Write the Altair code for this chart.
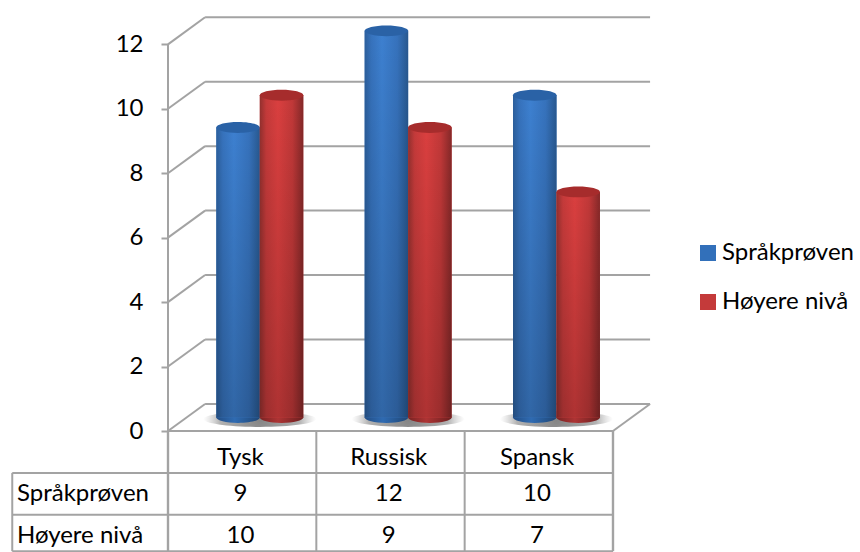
import altair as alt
import pandas as pd

categories = ["Tysk", "Russisk", "Spansk"]
series_names = ["Språkprøven", "Høyere nivå"]
sprakproven = [9, 12, 10]
hoyere_niva = [10, 9, 7]
y_ticks = [0, 2, 4, 6, 8, 10, 12]

series_values = {"Språkprøven": sprakproven, "Høyere nivå": hoyere_niva}
legend_colors = ["#3270ba", "#c43a3a"]

FONT = "Lato"
FONT_SIZE = 24
GREY = "#a3a3a3"

# oblique projection of the floor, in axis units
DEPTH_X = 0.25
DEPTH_Y = 0.84
BAR_W = 0.293
BAR_SHIFT = 0.119
TEXT_SHIFT = -0.012
N = len(categories)

x_scale = alt.Scale(domain=[0, 482 / 148.33], zero=False, nice=False)
y_scale = alt.Scale(domain=[0, 12.88], zero=False, nice=False)
y_axis = alt.Axis(
    values=y_ticks, title=None, grid=False, domain=False, tickSize=7,
    tickColor=GREY, tickWidth=2, labelFont=FONT, labelFontSize=FONT_SIZE,
    labelColor="#000000", labelPadding=18, format="d",
)


def X(field="x"):
    return alt.X(f"{field}:Q", scale=x_scale, axis=None)


def Y(field="y"):
    return alt.Y(f"{field}:Q", scale=y_scale, axis=y_axis)


def h_gradient(stops):
    return alt.Gradient(
        gradient="linear", x1=0, x2=1, y1=0, y2=0,
        stops=[alt.GradientStop(offset=o, color=c) for o, c in stops],
    )


shades = {
    "Språkprøven": {
        "body": [(0, "#2c5f9c"), (0.15, "#3672bc"), (0.4, "#3d80d0"), (0.75, "#3672bc"), (1, "#28588f")],
        "foot": [(0, "#234e85"), (0.42, "#2f6bb2"), (1, "#1f4675")],
        "top": "#2a62a6",
    },
    "Høyere nivå": {
        "body": [(0, "#93302e"), (0.15, "#c43a3a"), (0.42, "#da3f3f"), (0.75, "#c03838"), (1, "#842828")],
        "foot": [(0, "#7a2323"), (0.42, "#ad3434"), (1, "#6d1f1f")],
        "top": "#a62c2c",
    },
}

# walls and floor outline
segments = []
for v in y_ticks:
    segments.append(dict(x=0, y=v, x2=DEPTH_X, y2=v + DEPTH_Y))
    segments.append(dict(x=DEPTH_X, y=v + DEPTH_Y, x2=N + DEPTH_X, y2=v + DEPTH_Y))
segments.append(dict(x=0, y=0, x2=0, y2=12))
segments.append(dict(x=0, y=0, x2=N, y2=0))
segments.append(dict(x=N, y=0, x2=N + DEPTH_X, y2=DEPTH_Y))
seg_df = pd.DataFrame(segments)

walls = alt.Chart(seg_df).mark_rule(color=GREY, strokeWidth=2).encode(
    x=X(), x2="x2:Q", y=Y(), y2="y2:Q"
)

# soft contact shadows on the floor
shadow_df = pd.DataFrame({"x": [i + 0.5 + BAR_SHIFT for i in range(N)], "y": [DEPTH_Y / 2 - 0.05] * N})
ELLIPSE_WIDE = "M-1,0A1,0.14 0 1 1 1,0A1,0.14 0 1 1 -1,0Z"
shadows = alt.Chart(shadow_df).mark_point(
    shape=ELLIPSE_WIDE, size=113 ** 2, filled=True, opacity=1, strokeWidth=0,
    fill=alt.Gradient(
        gradient="radial", x1=0.5, y1=0.5, x2=0.5, y2=0.5, r1=0, r2=0.5,
        stops=[
            alt.GradientStop(offset=0, color="rgba(110,110,110,0.85)"),
            alt.GradientStop(offset=0.7, color="rgba(125,125,125,0.6)"),
            alt.GradientStop(offset=1, color="rgba(170,170,170,0)"),
        ],
    ),
).encode(x=X(), y=Y())

# cylinders, one layer group per series so the second series stands in front
ELLIPSE = "M-1,0A1,0.25 0 1 1 1,0A1,0.25 0 1 1 -1,0Z"
ELLIPSE_SIZE = 43.5 ** 2
cylinders = []
for s, name in enumerate(series_names):
    rows = []
    for i, v in enumerate(series_values[name]):
        centre = i + 0.5 + BAR_SHIFT + (s - 0.5) * BAR_W
        rows.append(dict(
            series=name, x=centre, x_l=centre - BAR_W / 2, x_r=centre + BAR_W / 2,
            y=v + DEPTH_Y / 2, y0=DEPTH_Y / 2,
        ))
    df = pd.DataFrame(rows)
    base = alt.Chart(df)
    sh = shades[name]
    cylinders.append(
        base.mark_point(shape=ELLIPSE, size=ELLIPSE_SIZE, filled=True, opacity=1, strokeWidth=0,
                        fill=h_gradient(sh["foot"])).encode(x=X(), y=Y("y0"))
    )
    cylinders.append(
        base.mark_rect().encode(
            x=X("x_l"), x2="x_r:Q", y=Y(), y2="y0:Q",
            color=alt.Color(
                "series:N",
                scale=alt.Scale(domain=series_names, range=legend_colors),
                legend=alt.Legend(
                    title=None, orient="none", legendX=528, legendY=225,
                    symbolType="square", symbolSize=256, symbolStrokeWidth=0,
                    labelFont=FONT, labelFontSize=FONT_SIZE, labelColor="#000000",
                    rowPadding=25, labelOffset=2, labelLimit=200, padding=0,
                ),
            ),
        )
    )
    cylinders.append(
        base.mark_rect(fill=h_gradient(sh["body"])).encode(x=X("x_l"), x2="x_r:Q", y=Y(), y2="y0:Q")
    )
    cylinders.append(
        base.mark_rect(fill=alt.Gradient(
            gradient="linear", x1=0, x2=0, y1=0, y2=1,
            stops=[
                alt.GradientStop(offset=0, color="rgba(0,0,0,0)"),
                alt.GradientStop(offset=1, color="rgba(0,0,0,0.2)"),
            ],
        )).encode(x=X("x_l"), x2="x_r:Q", y=Y(), y2="y0:Q")
    )
    cylinders.append(
        base.mark_point(shape=ELLIPSE, size=ELLIPSE_SIZE, filled=True, opacity=1, strokeWidth=0,
                        fill=sh["top"]).encode(x=X(), y=Y())
    )

# data table beneath the floor
TABLE_LEFT = -1.05
ROW_TOP, ROW_MID, ROW_BOTTOM = -1.3, -2.6, -3.73
grid = []
for i in range(N + 1):
    grid.append(dict(x=i, y=0, x2=i, y2=ROW_BOTTOM, w=2.4 if i in (0, N) else 2))
grid.append(dict(x=TABLE_LEFT, y=ROW_TOP, x2=TABLE_LEFT, y2=ROW_BOTTOM, w=2))
for r in (ROW_TOP, ROW_MID, ROW_BOTTOM):
    grid.append(dict(x=TABLE_LEFT, y=r, x2=N, y2=r, w=2))
table_lines = alt.Chart(pd.DataFrame(grid)).mark_rule(color=GREY).encode(
    x=X(), x2="x2:Q", y=Y(), y2="y2:Q",
    strokeWidth=alt.StrokeWidth("w:Q", scale=None),
)

cells = [dict(x=i + 0.5 + TEXT_SHIFT, y=-0.85, t=c) for i, c in enumerate(categories)]
for row_y, name in zip((-1.95, -3.25), series_names):
    cells += [dict(x=i + 0.5 + TEXT_SHIFT, y=row_y, t=str(v)) for i, v in enumerate(series_values[name])]
table_text = alt.Chart(pd.DataFrame(cells)).mark_text(
    font=FONT, fontSize=FONT_SIZE, color="#000000", align="center", baseline="middle"
).encode(x=X(), y=Y(), text="t:N")

row_heads = pd.DataFrame({"x": [-1.018, -1.018], "y": [-1.95, -3.25], "t": series_names})
row_text = alt.Chart(row_heads).mark_text(
    font=FONT, fontSize=FONT_SIZE, color="#000000", align="left", baseline="middle"
).encode(x=X(), y=Y(), text="t:N")

chart = alt.layer(
    walls, shadows, *cylinders, table_lines, table_text, row_text
).properties(
    width=482, height=415,
    padding={"left": 168, "right": 210, "top": 16, "bottom": 121},
    autosize=alt.AutoSizeParams(type="none"),
    background="#ffffff",
).configure_view(stroke=None)

chart.save("out.html", embed_options={"renderer": "svg", "actions": False})
